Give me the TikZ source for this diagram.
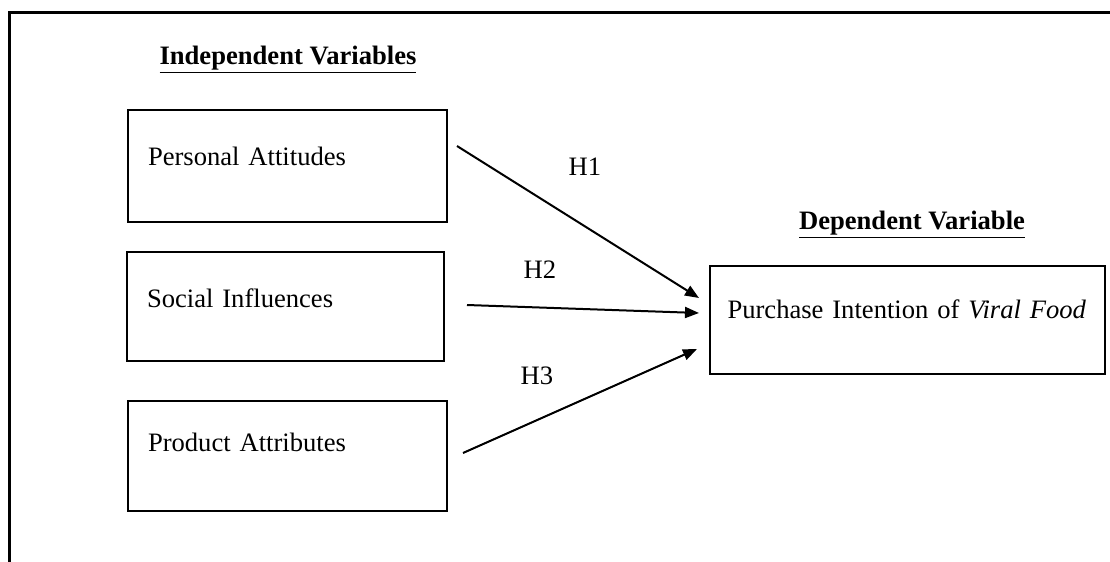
\documentclass[tikz,border=0pt]{standalone}
\usepackage{fontspec}
\setmainfont{Liberation Serif}
\usetikzlibrary{arrows.meta}

\begin{document}
\begin{tikzpicture}[x=0.5pt,y=-0.5pt,
            varbox/.style={draw,rectangle,line width=1.2pt,align=left,inner xsep=10pt,inner ysep=0pt,
                font=\fontsize{13.3}{16}\selectfont},
            heading/.style={font=\fontsize{13.3}{16}\selectfont\bfseries,inner sep=0pt},
            hyp/.style={font=\fontsize{13.3}{16}\selectfont,inner sep=0pt},
            path/.style={line width=1pt,-{Triangle[length=7pt,width=5.5pt]}}]
            \useasboundingbox (0,0) rectangle (1110,562);

            \draw[line width=1.5pt] (9,562) -- (9,12) -- (1110,12);

            \node (indep) at (288,60) [heading] {\underline{Independent Variables}};
            \node (dep) at (912,225) [heading] {\underline{Dependent Variable}};

            \node (pa) at (287.5,166) [varbox,text width=139.5pt,text depth=10pt,minimum height=56pt] {Personal Attitudes};
            \node (si) at (285.5,306.5) [varbox,text width=138.5pt,text depth=8pt,minimum height=54.5pt] {Social Influences};
            \node (pr) at (287.5,456) [varbox,text width=139.5pt,text depth=14pt,minimum height=55pt] {Product Attributes};
            \node (pi) at (907.5,320) [varbox,inner xsep=8.75pt,text width=180pt,text depth=11pt,minimum height=54pt] {Purchase Intention of \textit{Viral Food}};

            \coordinate (pa-out) at (457,146);
            \coordinate (si-out) at (467,305);
            \coordinate (pr-out) at (463,453);
            \coordinate (pi-in1) at (699,298);
            \coordinate (pi-in2) at (699,313);
            \coordinate (pi-in3) at (697,349);

            \draw[path] (pa-out) -- (pi-in1);
            \draw[path] (si-out) -- (pi-in2);
            \draw[path] (pr-out) -- (pi-in3);

            \node (h1) at (585,167) [hyp] {H1};
            \node (h2) at (540,270) [hyp] {H2};
            \node (h3) at (537,376) [hyp] {H3};

        \end{tikzpicture}
\end{document}
